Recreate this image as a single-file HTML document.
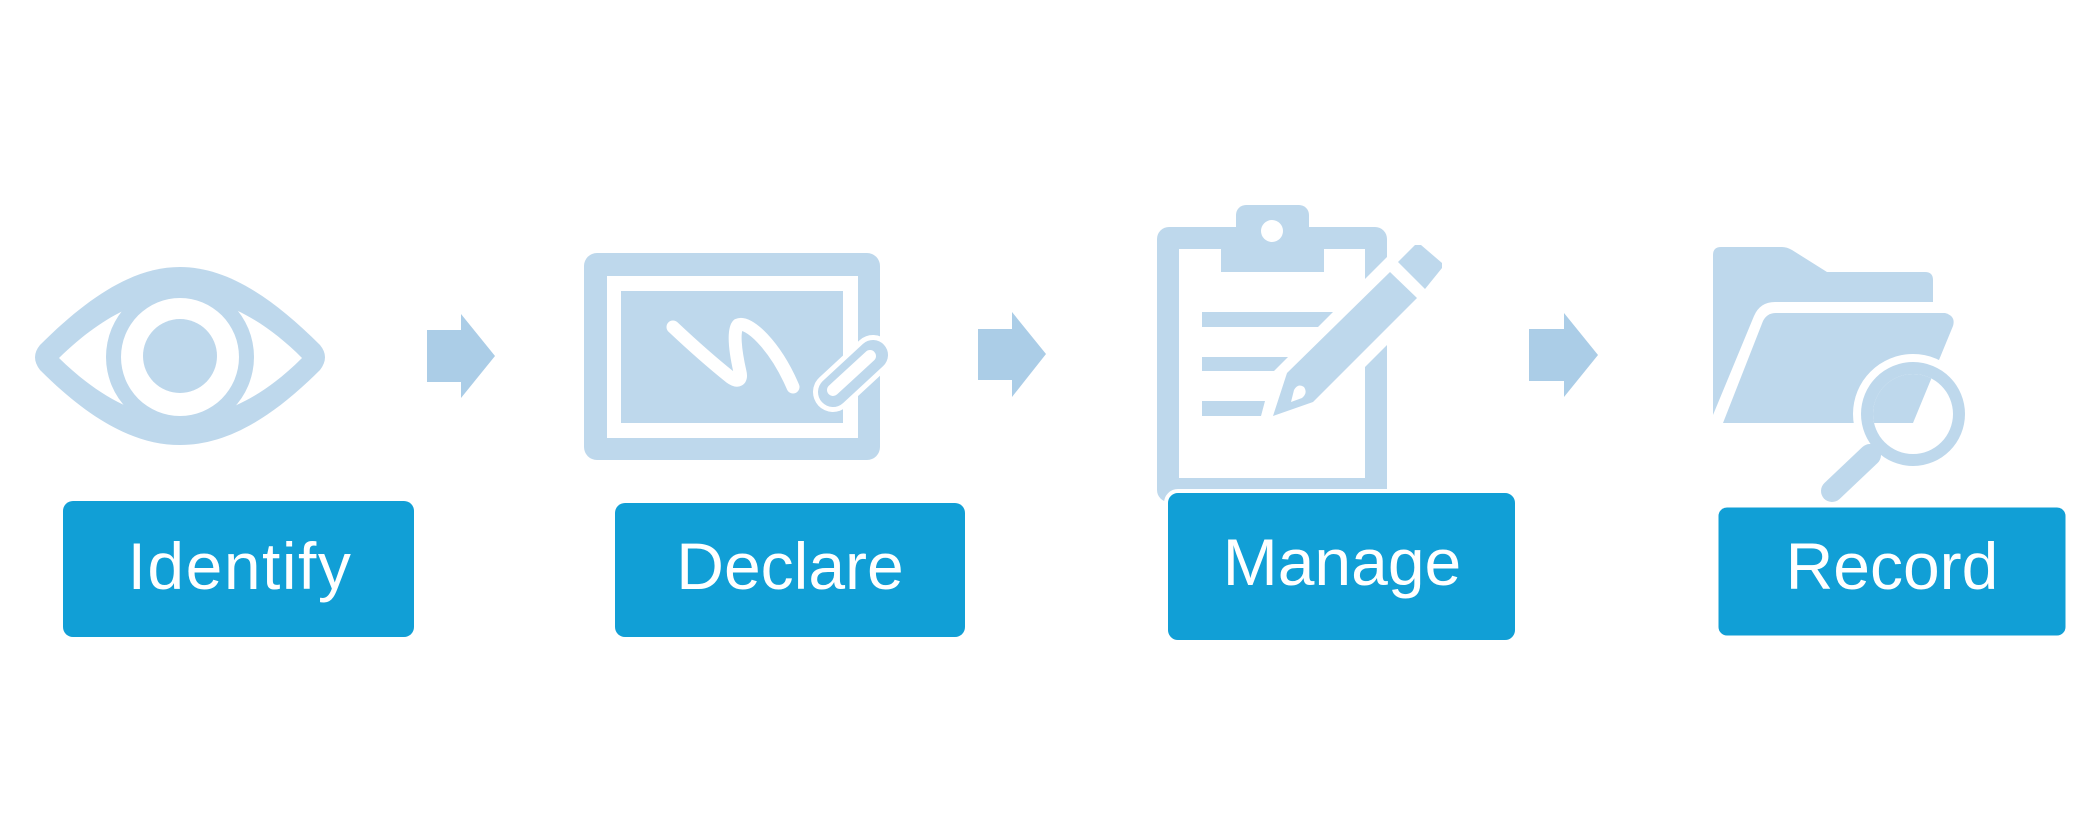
<!DOCTYPE html>
<html><head><meta charset="utf-8"><style>
html,body{margin:0;padding:0;background:#fff;}
svg{display:block;}
text{font-family:"Liberation Sans",sans-serif;fill:#fff;}
</style></head><body>
<svg width="2073" height="818" viewBox="0 0 2073 818" xmlns="http://www.w3.org/2000/svg">
<defs>
<clipPath id="lens"><circle cx="1913" cy="414" r="40"/></clipPath>
</defs>
<rect width="2073" height="818" fill="#fff"/>
<!-- Eye -->
<path d="M40,345 C90,295 135,267 180,267 C225,267 270,295 320,345 Q330,357 320,370 C270,420 225,445 180,445 C135,445 90,420 40,370 Q30,357 40,345Z" fill="#bed8ec"/>
<path d="M59,358 C100,318 140,297 180,297 C220,297 262,318 302,358 C262,398 220,418 180,418 C140,418 100,398 59,358Z" fill="#fff"/>
<circle cx="180" cy="357" r="74" fill="#bed8ec"/>
<circle cx="180" cy="357" r="59" fill="#fff"/>
<circle cx="180" cy="356" r="37" fill="#bed8ec"/>
<!-- Arrow 1 -->
<polygon points="427,330 461,330 461,314 495,356 461,398 461,382 427,382" fill="#abcde7"/>
<!-- Declare icon -->
<rect x="584" y="253" width="296" height="207" rx="13" fill="#bed8ec"/>
<rect x="607" y="276" width="251" height="162" fill="#fff"/>
<rect x="621" y="291" width="222" height="132" fill="#bed8ec"/>
<path d="M673,327 C690,343 715,365 730,377 C738,383 742,380 740,372 C735,350 733,330 738,325 C748,320 775,345 793,387" fill="none" stroke="#fff" stroke-width="13" stroke-linecap="round" stroke-linejoin="round"/>
<line x1="873" y1="355" x2="833" y2="392" stroke="#fff" stroke-width="40" stroke-linecap="round"/>
<line x1="873" y1="355" x2="833" y2="392" stroke="#bed8ec" stroke-width="30" stroke-linecap="round"/>
<line x1="870" y1="356" x2="833" y2="390" stroke="#fff" stroke-width="12" stroke-linecap="round"/>
<!-- Arrow 2 -->
<polygon points="978,329 1012,329 1012,312 1046,354 1012,397 1012,380 978,380" fill="#abcde7"/>
<!-- Clipboard -->
<rect x="1157" y="227" width="230" height="275" rx="12" fill="#bed8ec"/>
<rect x="1236" y="205" width="73" height="40" rx="10" fill="#bed8ec"/>
<circle cx="1272" cy="231" r="11" fill="#fff"/>
<rect x="1179" y="249" width="186" height="229" fill="#fff"/>
<rect x="1221" y="249" width="103" height="23" fill="#bed8ec"/>
<polygon points="1364,280 1392,252 1392,340 1364,368" fill="#fff"/>
<polygon points="1202,312 1333,312 1318,327 1202,327" fill="#bed8ec"/>
<polygon points="1202,357 1288,357 1274,371 1202,371" fill="#bed8ec"/>
<polygon points="1202,401 1265,401 1261,416 1202,416" fill="#bed8ec"/>
<polygon points="1390,272 1417,298 1313,402 1273,416 1287,373" fill="#bed8ec"/>
<path d="M1291,402 L1294,390 Q1298,383 1304,387 Q1308,393 1302,398 Z" fill="#fff"/>
<polygon points="1398,262 1415,245 1421,245 1442,263 1442,268 1425,289" fill="#bed8ec"/>
<!-- Arrow 3 -->
<polygon points="1529,329 1564,329 1564,313 1598,355 1564,397 1564,381 1529,381" fill="#abcde7"/>
<!-- Folder -->
<path d="M1713,255 Q1713,247 1721,247 L1782,247 Q1787,247 1792,250 L1827,272 L1925,272 Q1933,272 1933,280 L1933,302 L1775,302 Q1760,302 1754,316 L1713,415 Z" fill="#bed8ec"/>
<path d="M1763,321 Q1767,313 1776,313 L1945,313 Q1956,316 1953,326 L1913,423 L1723,423 Z" fill="#bed8ec"/>
<circle cx="1913" cy="414" r="60" fill="#fff"/>
<line x1="1885" y1="440" x2="1868" y2="456" stroke="#bed8ec" stroke-width="12"/>
<line x1="1870" y1="455" x2="1832" y2="491" stroke="#bed8ec" stroke-width="22" stroke-linecap="round"/>
<circle cx="1913" cy="414" r="52" fill="#bed8ec"/>
<circle cx="1913" cy="414" r="40" fill="#fff"/>
<path d="M1763,321 Q1767,313 1776,313 L1945,313 Q1956,316 1953,326 L1913,423 L1723,423 Z" fill="#bed8ec" clip-path="url(#lens)"/>
<!-- Boxes -->
<g fill="#119fd6">
<rect x="63" y="501" width="351" height="136" rx="10"/>
<rect x="615" y="503" width="350" height="134" rx="10"/>
<rect x="1166" y="491" width="351" height="151" rx="12" stroke="#fff" stroke-width="4"/>
<rect x="1717" y="506" width="350" height="131" rx="10" stroke="#fff" stroke-width="3"/>
</g>
<g font-size="66" text-anchor="middle">
<text x="240" y="589" letter-spacing="1.5">Identify</text>
<text x="790" y="589">Declare</text>
<text x="1342" y="585">Manage</text>
<text x="1892" y="589">Record</text>
</g>
</svg>
</body></html>
